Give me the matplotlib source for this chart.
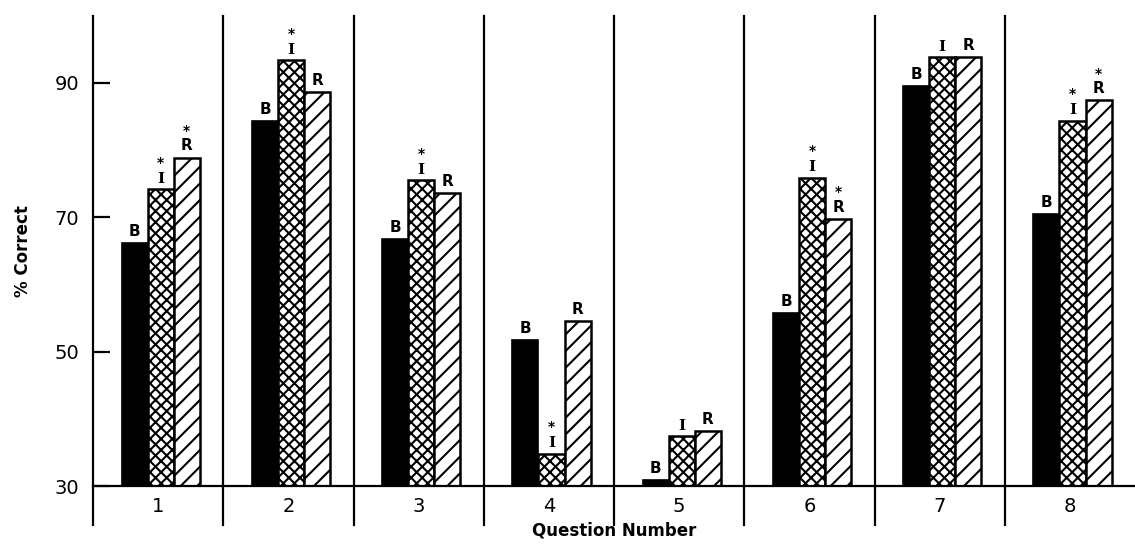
import numpy as np
import matplotlib
matplotlib.use("Agg")
import matplotlib.pyplot as plt

questions = ["1", "2", "3", "4", "5", "6", "7", "8"]
pct_B = [66.2, 84.4, 66.7, 51.8, 30.9, 55.8, 89.6, 70.5]
pct_I = [74.2, 93.4, 75.5, 34.8, 37.4, 75.9, 93.8, 84.4]
pct_R = [78.9, 88.7, 73.6, 54.6, 38.2, 69.8, 93.8, 87.4]
star_I = [True, True, True, True, False, True, False, True]
star_R = [True, False, False, False, False, True, False, True]

plt.rcParams['hatch.linewidth'] = 1.5
plt.rcParams['font.family'] = 'DejaVu Sans'

fig = plt.figure(figsize=(11.35, 5.44), dpi=100)
ax = fig.add_axes([0.082, 0.1066, 0.918, 0.8644])

x = np.arange(1, len(questions) + 1)
w = 0.2
shift = 0.02
ax.bar(x - w + shift, np.array(pct_B) - 30, w, bottom=30, color="black", edgecolor="black", linewidth=1.2)
ax.bar(x + shift, np.array(pct_I) - 30, w, bottom=30, color="white", edgecolor="black", hatch="xxx", linewidth=1.8)
ax.bar(x + w + shift, np.array(pct_R) - 30, w, bottom=30, color="white", edgecolor="black", hatch="//", linewidth=1.8)

lab_kw = dict(ha="center", va="bottom", fontsize=11, fontweight="bold")
for i in range(len(questions)):
    ax.text(x[i] - w + shift, pct_B[i] + 0.6, "B", **lab_kw)
    ax.text(x[i] + shift, pct_I[i] + 0.5, "I", family="DejaVu Serif", **lab_kw)
    ax.text(x[i] + w + shift, pct_R[i] + 0.6, "R", **lab_kw)
    if star_I[i]:
        ax.text(x[i] + shift, pct_I[i] + 2.9, "*", ha="center", va="bottom", fontsize=10, fontweight="bold")
    if star_R[i]:
        ax.text(x[i] + w + shift, pct_R[i] + 2.9, "*", ha="center", va="bottom", fontsize=10, fontweight="bold")

# group separators, running below the baseline
for s in np.arange(0.5, len(questions), 1.0):
    ax.plot([s, s], [24.2, 100], color="black", linewidth=1.6, clip_on=False)

ax.set_xlim(0.5, 8.5)
ax.set_ylim(30, 100)
ax.set_yticks([30, 50, 70, 90])
ax.set_xticks(x)
ax.set_xticklabels(questions)
ax.tick_params(axis="y", direction="in", length=12, width=1.6, labelsize=14, pad=10)
ax.tick_params(axis="x", length=0, labelsize=14, pad=8)
for s in ["top", "right", "left"]:
    ax.spines[s].set_visible(False)
ax.spines["bottom"].set_linewidth(1.6)

ax.set_ylabel("% Correct", fontsize=12, fontweight="bold", labelpad=16)
ax.set_xlabel("Question Number", fontsize=12, fontweight="bold", labelpad=4)

fig.savefig("out.png", dpi=100)
